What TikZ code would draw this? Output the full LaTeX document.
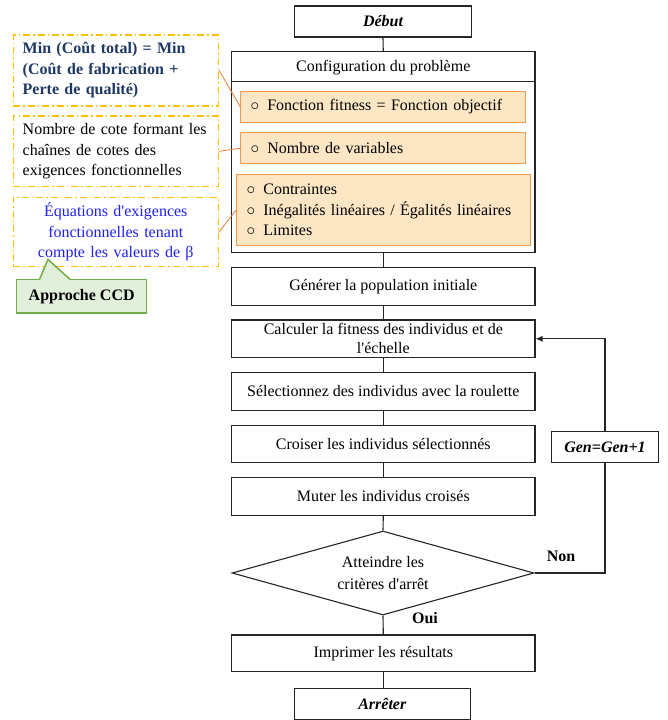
\documentclass[tikz,border=0pt]{standalone}
\usepackage{fontspec}
\setmainfont{Liberation Serif}[Ligatures=TeXOff]
\usetikzlibrary{shapes.geometric,arrows.meta}
\definecolor{orangeline}{HTML}{ED7D31}
\definecolor{orangefill}{HTML}{FDE6C3}
\definecolor{orangedraw}{HTML}{F29A50}
\definecolor{goldline}{HTML}{FFC000}
\definecolor{navytext}{HTML}{1F3864}
\definecolor{bluetext}{HTML}{2020F0}
\definecolor{greenfill}{HTML}{E2EFDA}
\definecolor{greenline}{HTML}{70AD47}
\definecolor{darkline}{HTML}{262626}
\tikzset{
  basefont/.style={font=\fontsize{16}{20.5}\selectfont},
  flowbox/.style={basefont, draw=darkline, line width=1.1pt, rectangle, inner sep=0pt, minimum width=303.3pt, align=center},
  termbox/.style={basefont, draw=darkline, line width=1.1pt, rectangle, inner sep=0pt, minimum width=176.5pt, minimum height=31pt, font=\fontsize{16}{20.5}\selectfont\bfseries\itshape},
  orbox/.style={basefont, draw=orangedraw, fill=orangefill, line width=1.1pt, rectangle, inner xsep=10pt, inner ysep=0pt, align=left},
  leftbox/.style={basefont, draw=goldline, line width=1.3pt, dash pattern=on 7pt off 3pt on 1.5pt off 3pt, rectangle, inner xsep=9.4pt, inner ysep=0pt, minimum width=205pt, text width=186.2pt},
  conn/.style={draw=darkline, line width=1.1pt},
  orconn/.style={draw=orangeline, line width=0.8pt},
  lbl/.style={basefont, font=\fontsize{16}{20.5}\selectfont\bfseries, inner sep=0pt}
}
\newcommand{\blt}{$\circ$\hspace{8pt}}
\begin{document}
\begin{tikzpicture}[x=1pt,y=-1pt]
\useasboundingbox (0,0) rectangle (667,720);
\fill[white] (0,0) rectangle (667,720);

% start
\node[termbox] (debut) at (383,21.5) {Début};

% configuration block
\node[draw=darkline, line width=1.1pt, rectangle, inner sep=0pt, minimum width=303.5pt, minimum height=201pt] (config) at (383.25,152.3) {};
\node[basefont, inner sep=0pt] (cfgtitle) at (383.25,67.5) {Configuration du problème};
\draw[conn] ([yshift=-30.5pt]config.north west) coordinate (hl) -- ([yshift=-30.5pt]config.north east) coordinate (hr);

\node[orbox, minimum width=284.6pt, minimum height=30.7pt, text width=264.6pt] (fit) at (383,106.7) {\blt Fonction fitness = Fonction objectif};
\node[orbox, minimum width=284.6pt, minimum height=31pt, text width=264.6pt] (var) at (383,148.2) {\blt Nombre de variables};
\node[orbox, minimum width=294pt, minimum height=71.4pt, text width=274pt] (contr) at (383.7,210) {\blt Contraintes\\ \blt Inégalités linéaires / Égalités linéaires\\ \blt Limites};

% left boxes
\node[leftbox, minimum height=71pt, align=left, text=navytext, font=\fontsize{16}{20.5}\selectfont\bfseries] (obj) at (115.8,70.5) {Min (Coût total) = Min\\(Coût de fabrication +\\Perte de qualité)};
\node[leftbox, minimum height=70.7pt, align=left] (nb) at (115.8,151.35) {Nombre de cote formant les\\chaînes de cotes des\\exigences fonctionnelles};
\node[leftbox, minimum height=69.4pt, align=center, text=bluetext] (eq) at (115.8,232) {Équations d'exigences\\fonctionnelles tenant\\compte les valeurs de β};

\draw[orconn] (obj.east |- 0,70) -- (fit.west);
\draw[orconn] (nb.east) -- (var.west);
\draw[orconn] (eq.east) -- (contr.west);

% callout
\node[draw=greenline, fill=greenfill, line width=1.5pt, rectangle, inner sep=0pt, minimum width=130pt, minimum height=33.7pt, font=\fontsize{16}{20.5}\selectfont\bfseries] (ccd) at (81.7,296.2) {Approche CCD};
\coordinate (ptip) at (48,259.5);
\fill[greenfill] (39.5,280.3) -- (ptip) -- (70,280.3) -- cycle;
\draw[greenline, line width=1.5pt, line join=miter] (39.5,279.35) -- (ptip) -- (70,279.35);

% flow boxes
\node[flowbox, minimum height=37.7pt] (gen) at (383.3,286.2) {Générer la population initiale};
\node[flowbox, minimum height=37.7pt, font=\fontsize{16}{19}\selectfont] (calc) at (383.3,338.8) {Calculer la fitness des individus et de\\l'échelle};
\node[flowbox, minimum height=37.7pt] (sel) at (383.3,391.2) {Sélectionnez des individus avec la roulette};
\node[flowbox, minimum height=37.3pt] (cro) at (383.3,443.7) {Croiser les individus sélectionnés};
\node[flowbox, minimum height=37.7pt] (mut) at (383.3,496.2) {Muter les individus croisés};
\node[diamond, draw=darkline, line width=1.1pt, inner sep=0pt, aspect=3.6, minimum width=302pt, minimum height=84pt, align=center, font=\fontsize{16}{22}\selectfont] (dia) at (383,573) {Atteindre les\\critères d'arrêt};
\node[flowbox, minimum height=36.7pt] (imp) at (383.3,653.3) {Imprimer les résultats};
\node[termbox] (arr) at (382.3,703.8) {Arrêter};

% loop box
\node[termbox, minimum width=106.6pt, minimum height=31pt] (inc) at (605,447.2) {Gen=Gen+1};

% connectors
\draw[conn] (debut.south) -- (config.north);
\draw[conn] (config.south) -- (gen.north -| config.south);
\draw[conn] (gen.south) -- (calc.north);
\draw[conn] (calc.south) -- (sel.north);
\draw[conn] (sel.south) -- (cro.north);
\draw[conn] (cro.south) -- (mut.north);
\draw[conn] (mut.south) -- (dia.north);
\draw[conn] (dia.south) -- (imp.north);
\draw[conn] (imp.south) -- (arr.north -| imp.south);
\draw[conn] (dia.east) -| (inc.south);
\draw[conn, -{Latex[length=7pt,width=6pt]}] (inc.north) |- (calc.east);

% labels
\node[lbl] (non) at (561,556.5) {Non};
\node[lbl] (oui) at (425,618) {Oui};
\end{tikzpicture}
\end{document}
